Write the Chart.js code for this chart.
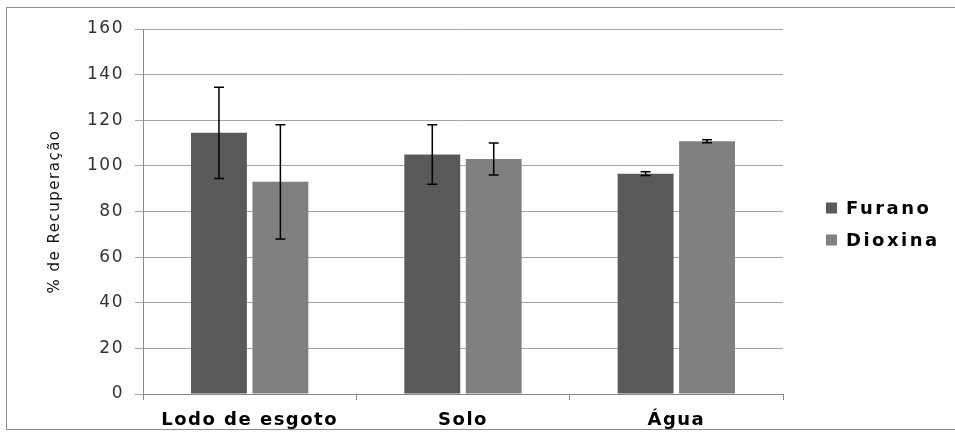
<!DOCTYPE html>
<html>
<head>
<meta charset="utf-8">
<script src="https://cdn.jsdelivr.net/npm/chart.js@4/dist/chart.umd.min.js"></script>
<style>
  html, body { margin: 0; padding: 0; background: #fff; }
  canvas { display: block; }
</style>
</head>
<body>
<canvas id="c" width="955" height="436"></canvas>
<script>
const categories = ['Lodo de esgoto', 'Solo', 'Água'];
const seriesNames = ['Furano', 'Dioxina'];
const furano = [114.5, 105, 96.6];
const furanoErr = [20, 13, 0.8];
const dioxina = [93, 103, 110.8];
const dioxinaErr = [25, 7, 0.7];
const yTicks = [0, 20, 40, 60, 80, 100, 120, 140, 160];
const colors = ['#595959', '#808080'];

const frame = {
  id: 'frame',
  beforeDraw(chart) {
    const ctx = chart.ctx;
    ctx.letterSpacing = '1.5px';
    ctx.save();
    ctx.strokeStyle = '#8c8c8c';
    ctx.lineWidth = 1;
    ctx.strokeRect(6.5, 7.5, 1000, 422);
    ctx.restore();
  }
};

const errorBars = {
  id: 'errorBars',
  afterDatasetsDraw(chart) {
    const ctx = chart.ctx;
    const y = chart.scales.y;
    const errs = [furanoErr, dioxinaErr];
    ctx.save();
    ctx.strokeStyle = '#000';
    ctx.lineWidth = 1.5;
    chart.data.datasets.forEach((ds, i) => {
      const meta = chart.getDatasetMeta(i);
      meta.data.forEach((el, j) => {
        const v = ds.data[j], e = errs[i][j];
        const yt = y.getPixelForValue(v + e);
        const yb = y.getPixelForValue(v - e);
        const x = el.x, w = 5;
        ctx.beginPath();
        ctx.moveTo(x, yt); ctx.lineTo(x, yb);
        ctx.moveTo(x - w, yt); ctx.lineTo(x + w, yt);
        ctx.moveTo(x - w, yb); ctx.lineTo(x + w, yb);
        ctx.stroke();
      });
    });
    ctx.restore();
  }
};

const legendPlugin = {
  id: 'customLegend',
  afterDraw(chart) {
    const ctx = chart.ctx;
    const x0 = chart.chartArea.right + 43;
    const yc = [208, 240];
    ctx.save();
    ctx.letterSpacing = '2.5px';
    ctx.font = 'bold 18px "DejaVu Sans"';
    ctx.textBaseline = 'middle';
    ctx.textAlign = 'left';
    chart.data.datasets.forEach((ds, i) => {
      ctx.fillStyle = ds.backgroundColor;
      ctx.fillRect(x0, yc[i] - 5.5, 11, 11);
      ctx.fillStyle = '#000';
      ctx.fillText(ds.label, x0 + 20, yc[i] + 1);
    });
    ctx.restore();
  }
};

new Chart(document.getElementById('c'), {
  type: 'bar',
  data: {
    labels: categories,
    datasets: [
      { label: seriesNames[0], data: furano, backgroundColor: colors[0], categoryPercentage: 0.576, barPercentage: 0.91 },
      { label: seriesNames[1], data: dioxina, backgroundColor: colors[1], categoryPercentage: 0.576, barPercentage: 0.91 }
    ]
  },
  options: {
    responsive: false,
    animation: false,
    layout: { padding: { left: 0, right: 172, top: 29, bottom: 0 } },
    plugins: { legend: { display: false }, tooltip: { enabled: false } },
    scales: {
      x: {
        grid: { display: true, drawOnChartArea: false, drawTicks: true, tickLength: 6, color: '#888', offset: true },
        border: { color: '#888' },
        ticks: { color: '#000', font: { family: 'DejaVu Sans', size: 18, weight: 'bold' }, padding: 10 },
        afterFit(s) { s.height = 42; }
      },
      y: {
        min: 0, max: 160,
        afterBuildTicks(s) { s.ticks = yTicks.map(v => ({ value: v })); },
        grid: { color: '#a6a6a6', tickLength: 8 },
        border: { color: '#888' },
        ticks: { color: '#333', font: { family: 'DejaVu Sans', size: 17 }, padding: 11 },
        title: { display: true, text: '% de Recuperação', color: '#111', font: { family: 'DejaVu Sans', size: 15 }, padding: { top: 46, bottom: 0 } },
        afterFit(s) { s.width = 143; }
      }
    }
  },
  plugins: [frame, errorBars, legendPlugin]
});
</script>
</body>
</html>
